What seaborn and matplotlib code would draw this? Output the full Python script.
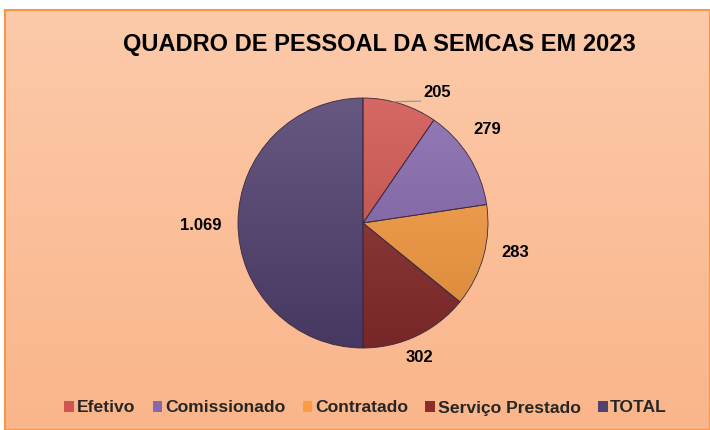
import numpy as np
import matplotlib
matplotlib.use("Agg")
import matplotlib.pyplot as plt
import seaborn as sns
from matplotlib.patches import Patch, Rectangle
from matplotlib.colors import to_rgb

# ---- data ----
categories = ["Efetivo", "Comissionado", "Contratado", "Serviço Prestado", "TOTAL"]
values = [205, 279, 283, 302, 1069]
value_labels = ["205", "279", "283", "302", "1.069"]
title = "QUADRO DE PESSOAL DA SEMCAS EM 2023"

# ---- style ----
colors = ["#D0544F", "#8668AE", "#FA9D42", "#8A2D2D", "#524171"]
label_dist = [1.20, 1.24, 1.24, 1.17, 1.30]
label_ang_offset = [-12.2, 4.9, 4.5, -2.6, 1.0]

sns.set_theme(style="white")
plt.rcParams["font.family"] = ["Liberation Sans", "DejaVu Sans"]

W, H = 710, 430
fig = plt.figure(figsize=(W / 100, H / 100), dpi=100)
fig.patch.set_facecolor("white")

# background panel with vertical gradient
bg = fig.add_axes([5 / W, 0, 1 - 5 / W, 420 / H])
bg.set_axis_off()
top = np.array(to_rgb("#FCCAAA"))
bot = np.array(to_rgb("#FAB58A"))
t = np.linspace(0, 1, 256)[:, None, None]
grad = top * (1 - t) + bot * t
grad = np.repeat(grad, 2, axis=1)
bg.imshow(grad, aspect="auto", extent=[0, 1, 0, 1], origin="upper")
bg.add_patch(Rectangle((0, 0), 1, 1, transform=bg.transAxes, fill=False,
                       edgecolor="#F79646", linewidth=1.5, clip_on=False))
bg.set_xlim(0, 1)
bg.set_ylim(0, 1)

# pie axes
R = 125
k = 1.4
side = 2 * R * k
cx, cy = 363, H - 223
ax = fig.add_axes([(cx - side / 2) / W, (cy - side / 2) / H, side / W, side / H])

wedges, _ = ax.pie(values, colors=colors, startangle=90, counterclock=False,
                   radius=1.0, wedgeprops=dict(edgecolor="#3a2a40", linewidth=0.6))

# gradient shading inside each wedge
yy = np.linspace(1, 0, 200)[:, None]
for w, c in zip(wedges, colors):
    base = np.array(to_rgb(c))
    light = np.clip(base + (1 - base) * 0.12, 0, 1)
    dark = base * 0.86
    img = light[None, None, :] * yy[:, :, None] + dark[None, None, :] * (1 - yy[:, :, None])
    img = np.repeat(img, 2, axis=1)
    im = ax.imshow(img, extent=[-1, 1, -1, 1], origin="upper", zorder=w.get_zorder() + 0.1,
                   aspect="auto")
    im.set_clip_path(w)
    w.set_zorder(w.get_zorder() + 0.2)
    w.set_facecolor("none")

# value labels
label_xy = []
for w, lab, d, off in zip(wedges, value_labels, label_dist, label_ang_offset):
    ang = np.deg2rad((w.theta1 + w.theta2) / 2 + off)
    x, y = d * np.cos(ang), d * np.sin(ang)
    label_xy.append((x, y))
    ax.text(x, y, lab, ha="center", va="center",
            fontsize=12, fontweight="bold", color="black")

# leader line for first wedge
lx, ly = label_xy[0]
a_start = np.deg2rad(76)
ax.plot([np.cos(a_start), lx - 0.13], [np.sin(a_start), ly - 0.07],
        color="#8c9aa0", linewidth=0.9)

ax.set_xlim(-k, k)
ax.set_ylim(-k, k)
ax.set_aspect("equal")
ax.set_axis_off()

fig.text(0.535, 1 - 45 / H, title, ha="center", va="center",
         fontsize=17, fontweight="bold", color="black")

handles = [Patch(facecolor=c, edgecolor="none") for c in colors]
fig.legend(handles, categories, loc="center", bbox_to_anchor=(0.515, 22 / H),
           ncol=5, frameon=False, handlelength=0.55, handleheight=0.55,
           handletextpad=0.15, columnspacing=1.0,
           prop=dict(weight="bold", size=12.6))

fig.savefig("out.png", dpi=100, facecolor=fig.get_facecolor())
